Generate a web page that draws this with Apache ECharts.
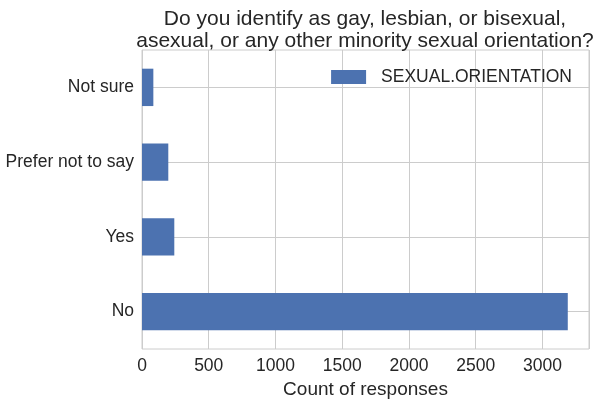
<!DOCTYPE html>
<html>
<head>
<meta charset="utf-8">
<script src="https://cdn.jsdelivr.net/npm/echarts@6/dist/echarts.min.js"></script>
<style>
  html, body { margin: 0; padding: 0; background: #fff; }
  #chart { width: 602px; height: 401px; }
</style>
</head>
<body>
<div id="chart"></div>
<script>
// bottom to top, as the y axis draws them
const categories = ["No", "Yes", "Prefer not to say", "Not sure"];
const counts = [3190, 242, 197, 85];
const seriesName = "SEXUAL.ORIENTATION";
const xTicks = { min: 0, max: 3349, interval: 500 };

const font = "Liberation Sans, Arial, sans-serif";
const ink = "#262626";

const chart = echarts.init(document.getElementById("chart"), null, { renderer: "canvas" });

chart.setOption({
  animation: false,
  textStyle: { fontFamily: font },
  title: {
    text: "Do you identify as gay, lesbian, or bisexual,\nasexual, or any other minority sexual orientation?",
    left: 360,
    top: 3,
    textAlign: "center",
    textStyle: { fontFamily: font, fontSize: 21, fontWeight: "normal", color: ink, lineHeight: 22 }
  },
  legend: {
    data: [seriesName],
    right: 25,
    top: 63,
    icon: "rect",
    itemWidth: 35,
    itemHeight: 14,
    itemGap: 10,
    textStyle: { fontFamily: font, fontSize: 17.5, color: ink, padding: [0, 0, 0, 10] }
  },
  grid: {
    left: 142, right: 13, top: 50, bottom: 52,
    outerBoundsMode: "none",
    containLabel: false,
    show: true, borderColor: "#cccccc", borderWidth: 1
  },
  xAxis: {
    type: "value",
    min: xTicks.min,
    max: xTicks.max,
    interval: xTicks.interval,
    name: "Count of responses",
    nameLocation: "middle",
    nameGap: 27,
    nameTextStyle: { fontFamily: font, fontSize: 19, color: ink },
    axisLine: { show: false },
    axisTick: { show: false },
    axisLabel: {
      fontFamily: font, fontSize: 17.5, color: ink, margin: 8,
      showMaxLabel: false,
      formatter: v => String(v)
    },
    splitLine: { show: true, lineStyle: { color: "#cccccc", width: 1 } }
  },
  yAxis: {
    type: "category",
    data: categories,
    axisLine: { show: false },
    axisTick: { show: false },
    axisLabel: { fontFamily: font, fontSize: 17.5, color: ink, margin: 8 },
    splitLine: { show: false }
  },
  series: [
    {
      // carries the horizontal grid lines at each category centre, behind the bars
      type: "line",
      data: [],
      z: 0,
      silent: true,
      markLine: {
        silent: true,
        symbol: "none",
        label: { show: false },
        lineStyle: { color: "#cccccc", width: 1, type: "solid" },
        data: categories.map(c => ({ yAxis: c }))
      }
    },
    {
      name: seriesName,
      type: "bar",
      data: counts,
      barWidth: "50%",
      z: 5,
      itemStyle: { color: "#4c72b0" }
    }
  ]
});
</script>
</body>
</html>
